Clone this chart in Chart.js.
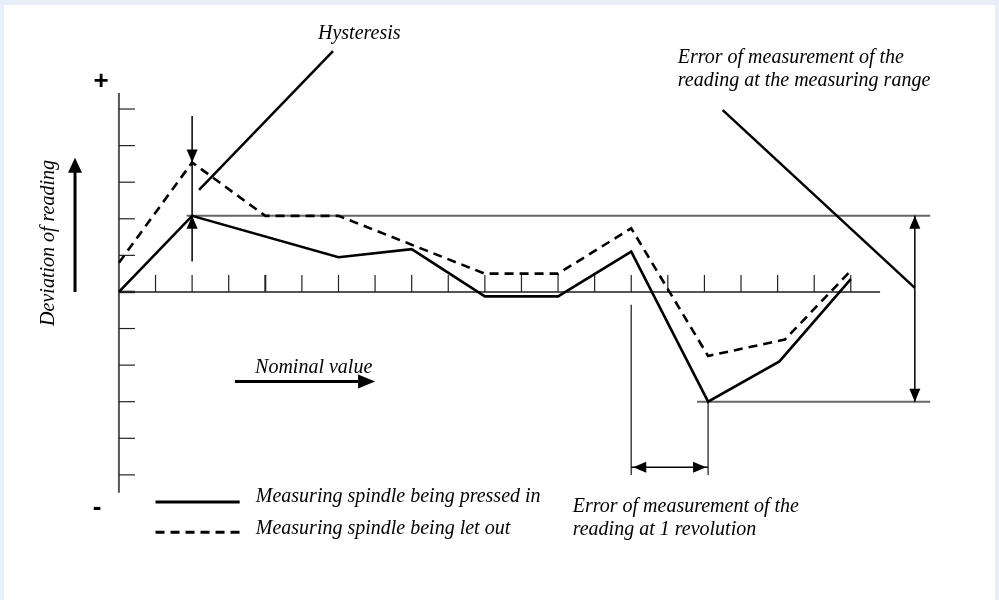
<!DOCTYPE html>
<html>
<head>
<meta charset="utf-8">
<script src="https://cdn.jsdelivr.net/npm/chart.js@4.4.1/dist/chart.umd.min.js"></script>
<style>
  body { margin: 0; background: #e8eff8; }
  #panel { position: absolute; left: 4px; top: 5px; width: 991px; height: 595px; background: #fff; }
  #wrap { position: absolute; left: 0; top: 0; width: 999px; height: 600px; }
</style>
</head>
<body>
<div id="panel"></div>
<div id="wrap"><canvas id="chart"></canvas></div>
<script>
// deviation of reading at each nominal value (x in scale divisions)
const pressedX = [0, 2, 6, 8, 10, 12, 14, 16.1, 18.05, 20];
const pressedY = [0, 2.08, 0.95, 1.17, -0.12, -0.12, 1.1, -3.0, -1.9, 0.35];
const letOutX = [0, 2, 4, 6, 10, 12, 14, 16.1, 18.2, 20];
const letOutY = [0.8, 3.54, 2.08, 2.08, 0.5, 0.5, 1.74, -1.75, -1.3, 0.58];

const seriesNames = ['Measuring spindle being pressed in', 'Measuring spindle being let out'];
const xTicks = [1, 2, 3, 4, 5, 6, 7, 8, 9, 10, 11, 12, 13, 14, 15, 16, 17, 18, 19, 20];
const yTicks = [-5, -4, -3, -2, -1, 1, 2, 3, 4, 5];

const serif = 'italic 20px "Liberation Serif", "DejaVu Serif", serif';

function toPoints(xs, ys) {
  return xs.map((x, i) => ({ x: x, y: ys[i] }));
}

function line(ctx, x1, y1, x2, y2) {
  ctx.beginPath();
  ctx.moveTo(x1, y1);
  ctx.lineTo(x2, y2);
  ctx.stroke();
}

// filled arrow head with its tip at (x, y)
function head(ctx, x, y, angle, len, half) {
  ctx.save();
  ctx.translate(x, y);
  ctx.rotate(angle);
  ctx.beginPath();
  ctx.moveTo(0, 0);
  ctx.lineTo(-len, -half);
  ctx.lineTo(-len, half);
  ctx.closePath();
  ctx.fill();
  ctx.restore();
}

const drawing = {
  id: 'drawing',
  beforeDatasetsDraw(chart) {
    const ctx = chart.ctx;
    const X = v => chart.scales.x.getPixelForValue(v);
    const Y = v => chart.scales.y.getPixelForValue(v);
    ctx.save();
    ctx.strokeStyle = '#555';
    ctx.lineWidth = 2;
    // axes
    line(ctx, X(0), Y(5.44), X(0), Y(-5.49));
    line(ctx, X(0), Y(0), X(20.8), Y(0));
    ctx.lineWidth = 1.2;
    ctx.strokeStyle = '#222';
    yTicks.forEach(t => line(ctx, X(0), Y(t), X(0) + 16, Y(t)));
    xTicks.forEach(t => {
      ctx.lineWidth = t === 4 ? 2 : 1.2;
      line(ctx, X(t), Y(0), X(t), Y(0) - 17);
    });
    ctx.lineWidth = 2.5;
    line(ctx, X(0), Y(0), X(0) + 16, Y(0));

    // extreme readings of the pressed-in run
    const top = Math.max(...pressedY);
    const low = Math.min(...pressedY);
    const lowX = pressedX[pressedY.indexOf(low)];
    ctx.strokeStyle = '#666';
    ctx.lineWidth = 2;
    line(ctx, X(1.85), Y(top), X(22.17), Y(top));
    line(ctx, X(15.8), Y(low), X(22.17), Y(low));

    // one revolution markers
    ctx.lineWidth = 1.5;
    ctx.strokeStyle = '#444';
    line(ctx, X(14), Y(-0.35), X(14), Y(-5.0));
    line(ctx, X(lowX), Y(low), X(lowX), Y(-5.0));
    ctx.restore();
  },
  afterDatasetsDraw(chart) {
    const ctx = chart.ctx;
    const X = v => chart.scales.x.getPixelForValue(v);
    const Y = v => chart.scales.y.getPixelForValue(v);
    const top = Math.max(...pressedY);
    const low = Math.min(...pressedY);
    const lowX = pressedX[pressedY.indexOf(low)];
    ctx.save();
    ctx.strokeStyle = '#000';
    ctx.fillStyle = '#000';

    // hysteresis arrows at the first peak
    ctx.lineWidth = 1.5;
    line(ctx, X(2), Y(4.81), X(2), Y(0.83));
    head(ctx, X(2), Y(letOutY[1]), Math.PI / 2, 13, 5.5);
    head(ctx, X(2), Y(pressedY[1]), -Math.PI / 2, 13, 5.5);

    // measuring range arrow
    line(ctx, X(21.75), Y(top), X(21.75), Y(low));
    head(ctx, X(21.75), Y(top), -Math.PI / 2, 13, 5.5);
    head(ctx, X(21.75), Y(low), Math.PI / 2, 13, 5.5);

    // one revolution arrow
    line(ctx, X(14), Y(-4.79), X(lowX), Y(-4.79));
    head(ctx, X(14) + 2, Y(-4.79), Math.PI, 13, 5.5);
    head(ctx, X(lowX) - 2, Y(-4.79), 0, 13, 5.5);

    // leader lines
    ctx.lineWidth = 2.5;
    line(ctx, X(5.85), Y(6.58), X(2.19), Y(2.79));
    line(ctx, X(16.5), Y(4.97), X(21.75), Y(0.11));

    // direction arrows
    ctx.lineWidth = 3;
    line(ctx, X(-1.2), Y(0), X(-1.2), Y(3.3));
    head(ctx, X(-1.2), Y(3.67), -Math.PI / 2, 15, 7);
    line(ctx, X(3.17), Y(-2.45), X(6.7), Y(-2.45));
    head(ctx, X(7.0), Y(-2.45), 0, 17, 7);

    // legend keys
    line(ctx, X(1.0), Y(-5.74), X(3.3), Y(-5.74));
    ctx.setLineDash([9, 6]);
    line(ctx, X(1.0), Y(-6.57), X(3.3), Y(-6.57));
    ctx.setLineDash([]);

    // signs
    ctx.font = 'bold 26px "Liberation Sans", Arial, sans-serif';
    ctx.textAlign = 'center';
    ctx.textBaseline = 'middle';
    ctx.fillText('+', X(-0.49), Y(5.74));
    ctx.fillText('-', X(-0.6), Y(-5.9));

    // labels
    ctx.font = serif;
    ctx.textAlign = 'left';
    ctx.fillText('Hysteresis', X(5.44), Y(7.06));
    ctx.fillText('Error of measurement of the', X(15.27), Y(6.41));
    ctx.fillText('reading at the measuring range', X(15.27), Y(5.76));
    ctx.fillText('Nominal value', X(3.72), Y(-2.08));
    ctx.fillText(seriesNames[0], X(3.74), Y(-5.6));
    ctx.fillText(seriesNames[1], X(3.74), Y(-6.48));
    ctx.fillText('Error of measurement of the', X(12.4), Y(-5.87));
    ctx.fillText('reading at 1 revolution', X(12.4), Y(-6.5));

    ctx.translate(X(-1.92), Y(1.34));
    ctx.rotate(-Math.PI / 2);
    ctx.textAlign = 'center';
    ctx.fillText('Deviation of reading', 0, 0);
    ctx.restore();
  }
};

new Chart(document.getElementById('chart'), {
  type: 'line',
  data: {
    datasets: [
      {
        label: seriesNames[0],
        data: toPoints(pressedX, pressedY),
        borderColor: '#000',
        borderWidth: 2.6,
        pointRadius: 0,
        fill: false,
        tension: 0
      },
      {
        label: seriesNames[1],
        data: toPoints(letOutX, letOutY),
        borderColor: '#000',
        borderWidth: 2.6,
        borderDash: [9, 6],
        pointRadius: 0,
        fill: false,
        tension: 0
      }
    ]
  },
  options: {
    responsive: true,
    maintainAspectRatio: false,
    animation: false,
    layout: { padding: 0 },
    plugins: { legend: { display: false }, tooltip: { enabled: false } },
    scales: {
      x: { type: 'linear', min: -3.25, max: 24.05, display: false },
      y: { type: 'linear', min: -8.42, max: 7.98, display: false }
    }
  },
  plugins: [drawing]
});
</script>
</body>
</html>
